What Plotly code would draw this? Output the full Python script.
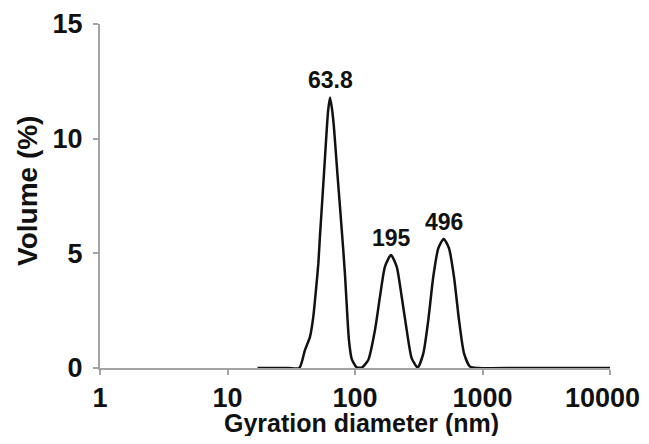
import math
import plotly.graph_objects as go

# Gyration diameter (nm) and volume (%)
diameter_nm = [17.2, 30, 36.6, 40.5, 44.4, 47.1, 49.4, 51.6, 53.1, 56.4, 58.5, 61.5,
               63.7, 66.0, 68.1, 70.1, 72.6, 76.3, 80.9, 83.6, 86.0, 89.7, 94.2, 103, 112.9,
               127.1, 143.5, 157, 171.8, 191.5, 212.3, 232.4, 254.3, 278.4, 310.3,
               343.5, 375.9, 411.3, 450.1, 496.3, 546, 597, 654, 716, 798, 927,
               2000, 10000]
volume_pct = [0, 0, 0, 0.78, 1.37, 2.24, 3.4, 4.57, 5.75, 8.0, 9.4, 11.2,
              11.8, 11.3, 10.6, 9.7, 8.55, 7.0, 5.15, 4.0, 2.8, 1.2, 0.4, 0.03, 0.02,
              0.35, 1.66, 3.11, 4.42, 4.93, 4.42, 3.11, 1.66, 0.42, 0.02,
              0.64, 2.1, 3.99, 5.22, 5.63, 5.22, 3.99, 2.1, 0.64, 0.06, 0,
              0, 0]

peak_labels = ["63.8", "195", "496"]
peak_x = [63.8, 195, 496]
peak_y = [11.8, 4.93, 5.63]

x_tickvals = [1, 10, 100, 1000, 10000]
# trailing no-break spaces nudge the last label left so it stays inside the page
x_ticktext = ["1", "10", "100", "1000", "10000\u00a0\u00a0"]
y_tickvals = [0, 5, 10, 15]

FONT = "Liberation Sans, Arial, Helvetica, sans-serif"
TXT = "#111111"
AX = "#a3a3a3"

fig = go.Figure()
fig.add_trace(go.Scatter(
    x=diameter_nm, y=volume_pct, mode="lines",
    line=dict(color="#111111", width=2.5, shape="spline", smoothing=0.6),
    showlegend=False, hoverinfo="x+y",
))

# annotations on a log axis take log10 positions
for t, xv, yv in zip(peak_labels, peak_x, peak_y):
    fig.add_annotation(x=math.log10(xv), y=yv, xref="x", yref="y", text=t, showarrow=False,
                       yanchor="bottom", yshift=2,
                       font=dict(family=FONT, size=23, color=TXT, weight="bold"))

fig.add_annotation(xref="paper", yref="paper", x=-0.141, y=0.515,
                   text="Volume (%)", textangle=-90, showarrow=False,
                   xanchor="center", yanchor="middle",
                   font=dict(family=FONT, size=28, color=TXT, weight="bold"))
fig.add_annotation(xref="paper", yref="paper", x=0.512, y=-0.160,
                   text="Gyration diameter (nm)", showarrow=False,
                   xanchor="center", yanchor="middle",
                   font=dict(family=FONT, size=25, color=TXT, weight="bold"))

# page body adds an 8px margin on every side; keep the page inside the window
fig.update_layout(
    width=633, height=428,
    margin=dict(l=92, r=31, t=16, b=68),
    paper_bgcolor="white", plot_bgcolor="white",
    font=dict(family=FONT, color=TXT),
)
fig.update_xaxes(
    type="log", range=[0, 4], automargin=False,
    tickvals=x_tickvals, ticktext=x_ticktext,
    ticklabeloverflow="allow",
    showgrid=False, zeroline=False,
    showline=True, linecolor=AX, linewidth=2,
    ticks="outside", ticklen=5, tickwidth=2, tickcolor=AX,
    tickfont=dict(family=FONT, size=27, color=TXT, weight="bold"),
)
fig.update_yaxes(
    range=[0, 15], automargin=False, tickvals=y_tickvals,
    showgrid=False, zeroline=False,
    showline=True, linecolor=AX, linewidth=2,
    ticks="outside", ticklen=5, tickwidth=2, tickcolor=AX,
    ticklabelstandoff=5,
    tickfont=dict(family=FONT, size=27, color=TXT, weight="bold"),
)

fig.write_html("out.html")
